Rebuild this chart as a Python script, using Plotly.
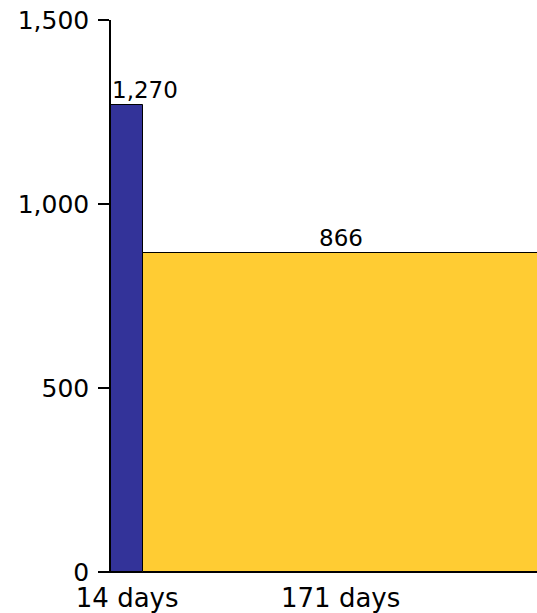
import plotly.graph_objects as go

categories = ["14 days", "171 days"]
durations = [14, 171]
values = [1270, 866]
colors = ["#333399", "#FFCC33"]

# compute left edges and centres from durations
lefts = []
acc = 0
for d in durations:
    lefts.append(acc)
    acc += d
centers = [l + d / 2 for l, d in zip(lefts, durations)]
total = acc

fig = go.Figure()
fig.add_trace(go.Bar(
    x=centers, y=values, width=durations,
    marker=dict(color=colors, line=dict(color="black", width=1)),
    hoverinfo="skip",
))

font = "DejaVu Sans"
# value labels
fig.add_annotation(x=lefts[0], y=values[0], text=f"{values[0]:,}", xanchor="left", yanchor="bottom",
                   showarrow=False, font=dict(family=font, size=23, color="black"), xshift=-1, yshift=0)
fig.add_annotation(x=centers[1], y=values[1], text=f"{values[1]:,}", xanchor="center", yanchor="bottom",
                   showarrow=False, font=dict(family=font, size=23, color="black"), yshift=0)

fig.update_layout(
    width=537, height=613,
    margin=dict(l=111, r=0, t=20, b=39),
    paper_bgcolor="white", plot_bgcolor="white",
    showlegend=False, bargap=0,
    font=dict(family=font, color="black"),
)
fig.update_xaxes(
    range=[0, total - 0.4], tickvals=centers, ticktext=categories,
    showline=True, linecolor="black", linewidth=1, ticks="", showgrid=False, zeroline=False,
    ticklabelstandoff=3,
    tickfont=dict(family=font, size=26, color="black"),
)
fig.update_yaxes(
    range=[0, 1500], tickvals=[0, 500, 1000, 1500], tickformat=",",
    showline=True, linecolor="black", linewidth=1.5, ticks="outside", ticklen=11, tickcolor="black",
    tickwidth=1.5, showgrid=False, zeroline=False, ticklabelstandoff=4,
    tickfont=dict(family=font, size=25, color="black"),
)

fig.write_html("out.html", config={"displayModeBar": False},
               post_script="document.body.style.margin='0';document.body.style.overflow='hidden';")
